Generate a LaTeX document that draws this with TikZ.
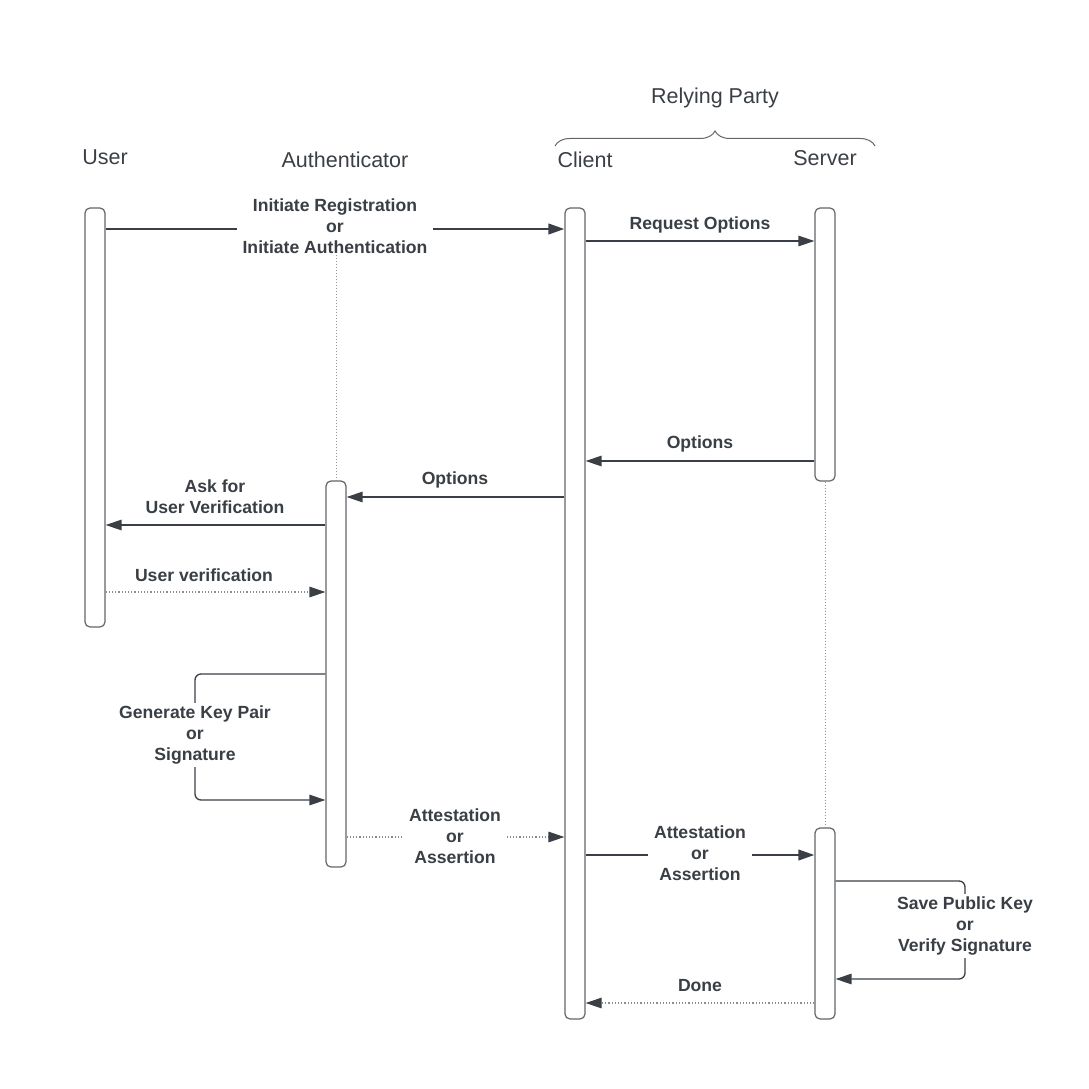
\documentclass[tikz,border=0pt]{standalone}
\usepackage{fontspec}
\setmainfont{Liberation Sans}
\usetikzlibrary{arrows.meta,decorations.pathreplacing}
\definecolor{ink}{HTML}{3A3F45}
\definecolor{edge}{HTML}{62666B}

\begin{document}
\begin{tikzpicture}[x=1pt,y=-1pt,>={Triangle[length=16pt,width=10.5pt]},
  bar/.style={draw=edge,line width=1.2pt,fill=white,rounded corners=5pt,
    minimum width=20pt,inner sep=0pt},
  head/.style={text=ink,font=\fontsize{21.5}{26}\selectfont},
  msg/.style={text=ink,font=\fontsize{17.6}{21.2}\selectfont\bfseries,
    align=center,inner sep=1pt},
  cut/.style={msg,fill=white,inner xsep=6pt},
  call/.style={draw=ink,line width=1.3pt},
  heavy/.style={draw=ink,line width=2.4pt},
  reply/.style={draw=ink!60,line width=1.2pt,dotted,
    -{Triangle[length=16pt,width=10.5pt,color=ink]}},
  life/.style={draw=edge!70,line width=1pt,dotted}]
  \useasboundingbox (0,0) rectangle (1089,1089);

  % Participants.
  \node[head] (huser) at (105,157) {User};
  \node[head] (hauth) at (345,160) {Authenticator};
  \node[head] (hclient) at (585,160) {Client};
  \node[head] (hserver) at (825,158) {Server};
  \node[head] (hparty) at (715,98) {Relying Party};
  \draw[edge,line width=1pt,decorate,decoration={brace,amplitude=15pt}]
    (555,146) -- (875,146);

  % Activation bars.
  \node[bar,minimum height=419pt] (ubar) at (95,417.5) {};
  \node[bar,minimum height=386pt] (abar) at (336,674) {};
  \node[bar,minimum height=811pt] (cbar) at (575,613.5) {};
  \node[bar,minimum height=273pt] (sbar) at (825,344.5) {};
  \node[bar,minimum height=191pt] (sbarb) at (825,923.5) {};

  % Message levels.
  \coordinate (m1) at (0,229);
  \coordinate (m2) at (0,241);
  \coordinate (m3) at (0,461);
  \coordinate (m4) at (0,497);
  \coordinate (m5) at (0,525);
  \coordinate (m6) at (0,592);
  \coordinate (m7) at (0,837);
  \coordinate (m8) at (0,855);
  \coordinate (m9) at (0,1003);

  \draw[heavy,->] (ubar.east |- m1) -- (cbar.west |- m1);
  \node[cut] (l1) at (335,226) {Initiate Registration\\or\\Initiate Authentication};
  \draw[life] (l1.south -| abar) -- (abar.north);
  \draw[life] (sbar.south) -- (sbarb.north);

  \draw[call,->] (cbar.east |- m2) -- (sbar.west |- m2);
  \node[msg] (l2) at (700,225) {Request Options};
  \draw[call,->] (sbar.west |- m3) -- (cbar.east |- m3);
  \node[msg] (l3) at (700,444) {Options};
  \draw[call,->] (cbar.west |- m4) -- (abar.east |- m4);
  \node[msg] (l4) at (455,480) {Options};
  \draw[call,->] (abar.west |- m5) -- (ubar.east |- m5);
  \node[msg] (l5) at (215,497) {Ask for\\User Verification};
  \draw[reply] (ubar.east |- m6) -- (abar.west |- m6);
  \node[msg] (l6) at (204,575) {User verification};

  % Self call on the authenticator.
  \coordinate (k1) at (195,674);
  \coordinate (k2) at (195,800);
  \draw[call,->,rounded corners=6pt] (abar.west |- k1) -- (k1) -- (k2) -- (abar.west |- k2);
  \node[cut,inner ysep=3pt] (l7) at (195,735) {Generate Key Pair\\or\\Signature};

  \draw[reply] (abar.east |- m7) -- (cbar.west |- m7);
  \node[cut] (l8) at (455,836) {Attestation\\or\\Assertion};
  \draw[heavy,->] (cbar.east |- m8) -- (sbarb.west |- m8);
  \node[cut] (l9) at (700,853) {Attestation\\or\\Assertion};

  % Self call on the server.
  \coordinate (s1) at (965,881);
  \coordinate (s2) at (965,979);
  \draw[call,->,rounded corners=6pt] (sbarb.east |- s1) -- (s1) -- (s2) -- (sbarb.east |- s2);
  \node[cut,inner ysep=3pt] (l10) at (965,926) {Save Public Key\\or\\Verify Signature};

  \draw[reply] (sbarb.west |- m9) -- (cbar.east |- m9);
  \node[msg] (l11) at (700,986) {Done};
\end{tikzpicture}
\end{document}
